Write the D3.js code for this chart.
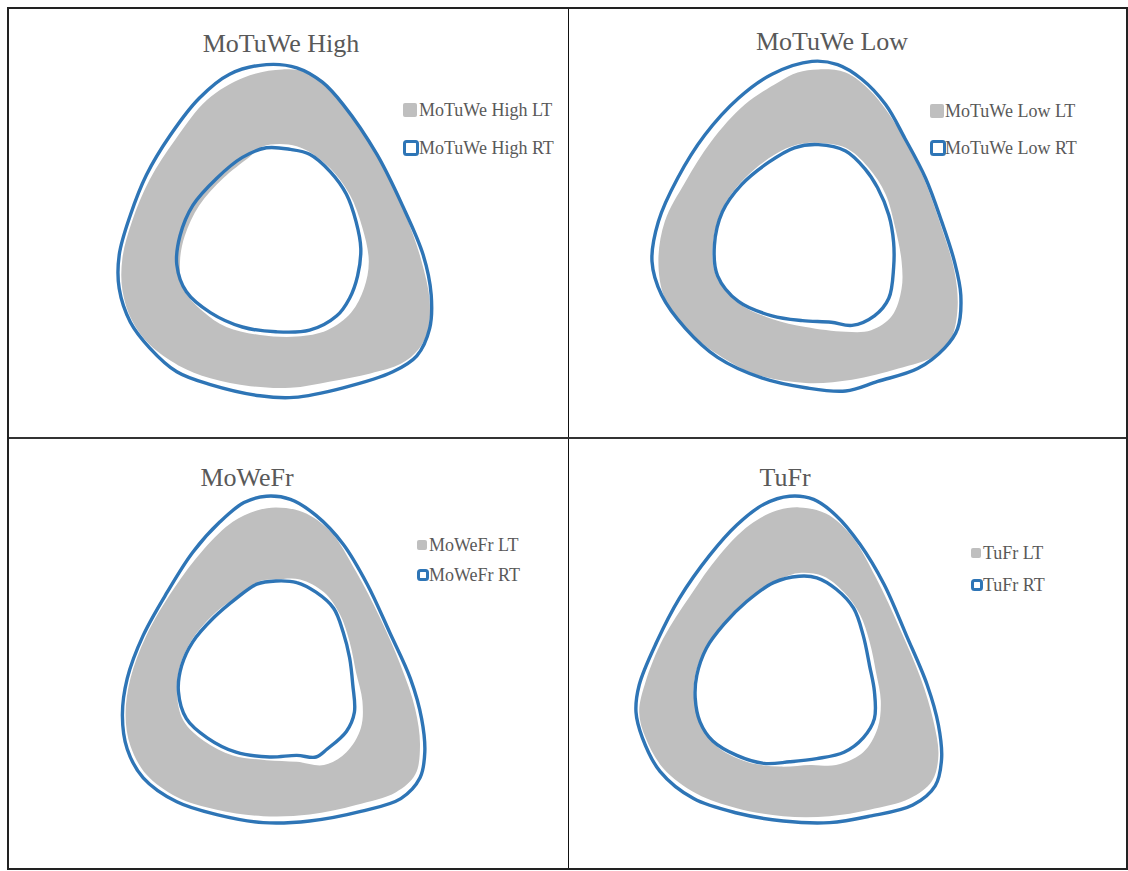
<!DOCTYPE html>
<html>
<head>
<meta charset="utf-8">
<script src="https://d3js.org/d3.v7.min.js"></script>
<style>
  body { margin: 0; background: #fff; }
  text { font-family: "Liberation Serif", "Times New Roman", serif; fill: #595959; }
</style>
</head>
<body>
<svg id="chart" width="1128" height="871"></svg>
<script>
// panel titles and series names
var titles = ["MoTuWe High", "MoTuWe Low", "MoWeFr", "TuFr"];
var seriesSuffix = ["LT", "RT"];

// MoTuWe High  ([x, y] points, closed loops)
var highLtOuter = [[4,101],[23,98],[38,85],[54,63],[68,38],[81,10],[91,-19],[96,-43],[95,-62],[89,-74],[78,-83],[59,-89],[34,-94],[9,-98],[-16,-97],[-41,-92],[-61,-84],[-79,-71],[-90,-56],[-96,-37],[-96,-17],[-90,6],[-79,32],[-63,57],[-43,82],[-20,96]];
var highLtInner = [[-8,53],[13,53],[32,41],[46,23],[54,2],[58,-19],[55,-36],[47,-51],[32,-62],[13,-66],[-10,-65],[-31,-60],[-46,-50],[-58,-36],[-60,-19],[-57,-3],[-48,16],[-33,33],[-17,46]];
var highRtOuter = [[-6,104],[13,102],[29,93],[42,79],[63,48],[79,16],[92,-15],[97,-40],[96,-61],[88,-78],[73,-88],[42,-98],[11,-104],[-10,-103],[-41,-96],[-62,-88],[-79,-73],[-91,-57],[-98,-36],[-98,-15],[-91,10],[-81,35],[-66,60],[-48,83],[-29,98]];
var highRtInner = [[-6,52],[9,51],[21,48],[34,37],[44,23],[50,6],[53,-11],[51,-28],[46,-42],[38,-53],[21,-62],[0,-63],[-21,-60],[-41,-51],[-56,-38],[-62,-21],[-60,-3],[-52,16],[-37,33],[-21,46]];

// MoTuWe Low
var lowLtOuter = [[-11,101],[6,99],[22,87],[39,64],[54,35],[66,2],[74,-25],[76,-48],[72,-67],[62,-78],[39,-86],[10,-93],[-19,-95],[-49,-90],[-71,-79],[-92,-63],[-107,-42],[-111,-19],[-107,6],[-94,31],[-78,56],[-57,79],[-36,93],[-24,99]];
var lowLtInner = [[-11,55],[6,52],[20,40],[31,23],[37,2],[41,-19],[41,-36],[35,-53],[22,-62],[6,-63],[-19,-60],[-40,-55],[-61,-45],[-75,-28],[-77,-9],[-71,14],[-57,33],[-38,48],[-24,54]];
var lowRtOuter = [[-15,106],[1,104],[16,95],[31,79],[43,58],[56,33],[66,6],[74,-19],[78,-40],[76,-61],[68,-73],[51,-86],[26,-94],[6,-100],[-19,-98],[-46,-92],[-74,-79],[-94,-61],[-109,-40],[-115,-19],[-111,6],[-99,33],[-82,60],[-61,83],[-40,98]];
var lowRtInner = [[-11,54],[6,50],[18,39],[26,27],[33,10],[36,-7],[36,-23],[33,-42],[24,-53],[10,-59],[-3,-57],[-21,-56],[-40,-53],[-61,-44],[-74,-28],[-76,-9],[-71,12],[-59,29],[-42,43],[-26,52]];

// MoWeFr
var mwfLtOuter = [[0,96],[17,93],[34,81],[50,56],[65,27],[78,-3],[87,-30],[90,-53],[87,-71],[75,-82],[50,-90],[21,-96],[-8,-97],[-37,-93],[-62,-85],[-81,-71],[-91,-53],[-94,-34],[-91,-11],[-81,16],[-64,45],[-45,70],[-27,87],[-12,94]];
var mwfLtInner = [[0,51],[15,51],[30,43],[40,29],[46,12],[50,-7],[54,-25],[53,-42],[44,-57],[30,-65],[13,-63],[-6,-62],[-27,-59],[-45,-50],[-58,-37],[-62,-19],[-60,-3],[-52,14],[-37,31],[-20,43],[-10,50]];
var mwfRtOuter = [[-6,103],[9,101],[25,91],[42,73],[57,48],[71,18],[84,-11],[91,-36],[93,-57],[90,-73],[78,-86],[53,-94],[21,-100],[-8,-101],[-37,-96],[-62,-88],[-83,-73],[-93,-55],[-96,-34],[-93,-11],[-83,16],[-68,43],[-52,68],[-35,87],[-20,99]];
var mwfRtInner = [[0,50],[13,49],[25,43],[36,33],[42,18],[46,2],[48,-15],[49,-32],[44,-44],[32,-55],[25,-60],[13,-59],[-4,-60],[-25,-57],[-43,-48],[-56,-36],[-61,-19],[-59,-3],[-52,12],[-39,27],[-25,39],[-12,48]];

// TuFr
var tfLtOuter = [[-23,96],[-6,92],[9,79],[25,52],[40,20],[53,-11],[61,-38],[64,-59],[60,-75],[46,-86],[21,-93],[-4,-97],[-33,-97],[-62,-92],[-87,-83],[-108,-67],[-119,-48],[-123,-32],[-119,-13],[-108,14],[-91,41],[-73,66],[-54,85],[-37,94]];
var tfLtInner = [[-23,55],[-8,53],[5,43],[15,29],[21,12],[25,-7],[28,-25],[26,-42],[17,-57],[0,-65],[-16,-65],[-35,-66],[-56,-63],[-75,-53],[-85,-38],[-89,-21],[-87,-5],[-79,12],[-64,29],[-48,43],[-33,52]];
var tfRtOuter = [[-29,103],[-14,101],[0,91],[15,73],[30,48],[44,16],[57,-15],[64,-40],[66,-61],[62,-78],[48,-90],[21,-97],[-4,-101],[-33,-100],[-62,-95],[-89,-86],[-110,-69],[-121,-48],[-125,-32],[-123,-15],[-112,12],[-98,39],[-79,66],[-62,85],[-45,98]];
var tfRtInner = [[-23,53],[-12,52],[0,45],[11,33],[17,16],[21,-3],[24,-19],[24,-36],[17,-48],[5,-57],[-12,-61],[-29,-63],[-45,-64],[-62,-59],[-77,-50],[-85,-38],[-88,-23],[-87,-9],[-81,8],[-70,23],[-56,37],[-39,49]];

var ltData = [[highLtOuter, highLtInner], [lowLtOuter, lowLtInner], [mwfLtOuter, mwfLtInner], [tfLtOuter, tfLtInner]];
var rtData = [[highRtOuter, highRtInner], [lowRtOuter, lowRtInner], [mwfRtOuter, mwfRtInner], [tfRtOuter, tfRtInner]];

// layout (panel-local pixels)
var origins = [[8, 8], [568, 8], [8, 438], [568, 438]];
var titlePos = [[273, 44], [264, 42], [239, 48], [217, 48]];
var legendPos = [
  {x: 395, y1: 95, y2: 132, size: 14, gap: 16},
  {x: 362, y1: 96, y2: 132, size: 14, gap: 15},
  {x: 409, y1: 102, y2: 131, size: 10, gap: 12},
  {x: 403, y1: 110, y2: 141, size: 10, gap: 12}
];
var grayFill = "#bfbfbf", blue = "#2e75b6";

var svg = d3.select("#chart");

var x = d3.scaleLinear().domain([-100, 100]).range([108, 428]);
var y = d3.scaleLinear().domain([-100, 100]).range([383, 63]);
var loop = d3.line()
  .x(function(d) { return x(d[0]); })
  .y(function(d) { return y(d[1]); })
  .curve(d3.curveCatmullRomClosed.alpha(0.5));

for (var i = 0; i < 4; i++) {
  var g = svg.append("g")
    .attr("transform", "translate(" + origins[i][0] + "," + origins[i][1] + ")");

  // LT: filled ring
  g.append("path")
    .attr("d", loop(ltData[i][0]) + loop(ltData[i][1]))
    .attr("fill", grayFill)
    .attr("fill-rule", "evenodd");

  // RT: two outlines
  rtData[i].forEach(function(ring) {
    g.append("path")
      .attr("d", loop(ring))
      .attr("fill", "none")
      .attr("stroke", blue)
      .attr("stroke-width", 3.4)
      .attr("stroke-linejoin", "round");
  });

  g.append("text")
    .attr("x", titlePos[i][0])
    .attr("y", titlePos[i][1])
    .attr("text-anchor", "middle")
    .style("font-size", "26px")
    .text(titles[i]);

  // legend
  var lg = legendPos[i];
  g.append("rect")
    .attr("x", lg.x).attr("y", lg.y1)
    .attr("width", lg.size).attr("height", lg.size)
    .attr("rx", 2)
    .attr("fill", grayFill);
  g.append("rect")
    .attr("x", lg.x + 1.5).attr("y", lg.y2 + 1.5)
    .attr("width", lg.size - 1).attr("height", lg.size - 1)
    .attr("rx", 2)
    .attr("fill", "#fff")
    .attr("stroke", blue)
    .attr("stroke-width", 3);
  g.append("text")
    .attr("x", lg.x + lg.gap).attr("y", lg.y1 + lg.size / 2 + 6)
    .style("font-size", "18px")
    .text(titles[i] + " " + seriesSuffix[0]);
  g.append("text")
    .attr("x", lg.x + lg.gap).attr("y", lg.y2 + lg.size / 2 + 6.5)
    .style("font-size", "18px")
    .text(titles[i] + " " + seriesSuffix[1]);
}

// grid borders
svg.append("line").attr("x1", 568.5).attr("x2", 568.5).attr("y1", 8).attr("y2", 869)
  .attr("stroke", "#111").attr("stroke-width", 1);
svg.append("line").attr("x1", 8).attr("x2", 1127).attr("y1", 438).attr("y2", 438)
  .attr("stroke", "#333").attr("stroke-width", 2);
svg.append("rect").attr("x", 8).attr("y", 8).attr("width", 1119).attr("height", 861)
  .attr("fill", "none").attr("stroke", "#222").attr("stroke-width", 2);
</script>
</body>
</html>
